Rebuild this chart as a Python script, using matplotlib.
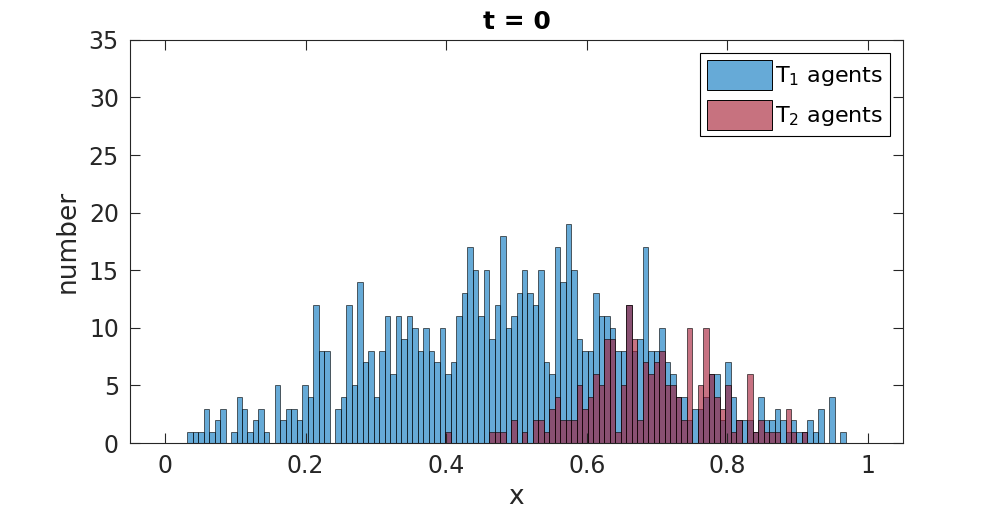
import numpy as np
import matplotlib
matplotlib.use('Agg')
import matplotlib.pyplot as plt

# bin edges: 128 equal bins on [0, 1]
binEdges = np.linspace(0, 1, 129)

# counts of T1 agents per bin
t1Counts = [0, 0, 0, 0, 1, 1, 1, 3, 1, 2, 3, 0, 1, 4, 3, 1, 2, 3, 1, 0,
            5, 2, 3, 3, 2, 5, 4, 12, 8, 8, 0, 3, 4, 12, 5, 14, 7, 8, 4, 8,
            11, 6, 11, 9, 11, 10, 8, 10, 8, 7, 10, 6, 7, 11, 13, 17, 15, 11, 15, 9,
            12, 18, 10, 11, 13, 15, 13, 12, 15, 7, 6, 17, 14, 19, 15, 9, 8, 8, 13, 11,
            11, 10, 8, 8, 12, 8, 9, 17, 8, 8, 10, 7, 6, 4, 4, 2, 3, 3, 4, 6,
            6, 2, 7, 4, 2, 2, 2, 1, 4, 2, 2, 3, 2, 1, 2, 1, 1, 2, 1, 3,
            0, 4, 0, 1, 0, 0, 0, 0]

# counts of T2 agents per bin
t2Counts = [0] * 51 + [1, 0, 0, 0, 0, 0, 0, 0, 1,
            1, 1, 0, 2, 0, 1, 0, 2, 2, 1, 3, 4, 2, 2, 2, 5, 3, 4, 6, 5,
            9, 9, 1, 5, 12, 9, 2, 7, 6, 7, 8, 5, 5, 4, 2, 10, 0, 5, 10, 6,
            4, 3, 5, 1, 2, 0, 6, 1, 2, 1, 1, 1, 0, 3, 1, 0, 1,
            0, 0, 0, 0, 0, 0, 0, 0, 0, 0, 0]

seriesLabels = ['T$_1$ agents', 'T$_2$ agents']
titleText = 't = 0'

axisColor = '#262626'
plt.rcParams['font.family'] = 'DejaVu Sans'

fig = plt.figure(figsize=(10, 5.17), dpi=100)
ax = fig.add_axes([0.13, 0.143, 0.773, 0.78])

# histograms drawn as bars on the shared edges
widths = np.diff(binEdges)
ax.bar(binEdges[:-1], t1Counts, width=widths, align='edge',
       color=(0, 0.447, 0.741), alpha=0.6, edgecolor='black', linewidth=0.7,
       label=seriesLabels[0])
ax.bar(binEdges[:-1], t2Counts, width=widths, align='edge',
       color=(0.635, 0.078, 0.184), alpha=0.6, edgecolor='black', linewidth=0.7,
       label=seriesLabels[1])

# axes look (matlab style box)
ax.set_xlim(-0.05, 1.05)
ax.set_ylim(0, 35)
ax.set_xticks([0, 0.2, 0.4, 0.6, 0.8, 1])
ax.set_xticklabels(['0', '0.2', '0.4', '0.6', '0.8', '1'])
ax.set_yticks(np.arange(0, 36, 5))
ax.tick_params(direction='in', length=7, width=0.8, top=True, right=True,
               labelsize=17, colors=axisColor, pad=8)
for spine in ax.spines.values():
    spine.set_color(axisColor)
    spine.set_linewidth(0.8)

ax.set_xlabel('x', fontsize=19, color=axisColor, labelpad=4)
ax.set_ylabel('number', fontsize=19, color=axisColor, labelpad=6)
ax.set_title(titleText, fontsize=18, fontweight='bold', pad=8)

leg = ax.legend(loc='upper right', fontsize=16, fancybox=False, framealpha=1,
                edgecolor='black', handlelength=2.9, handleheight=1.7,
                handletextpad=0.15, borderpad=0.3, labelspacing=0.45,
                borderaxespad=0.6)
leg.get_frame().set_linewidth(0.8)
for h in leg.legend_handles:
    h.set_alpha(1)
leg.legend_handles[0].set_facecolor('#66AAD7')
leg.legend_handles[1].set_facecolor('#C7727F')

fig.savefig('out.png', dpi=100)
